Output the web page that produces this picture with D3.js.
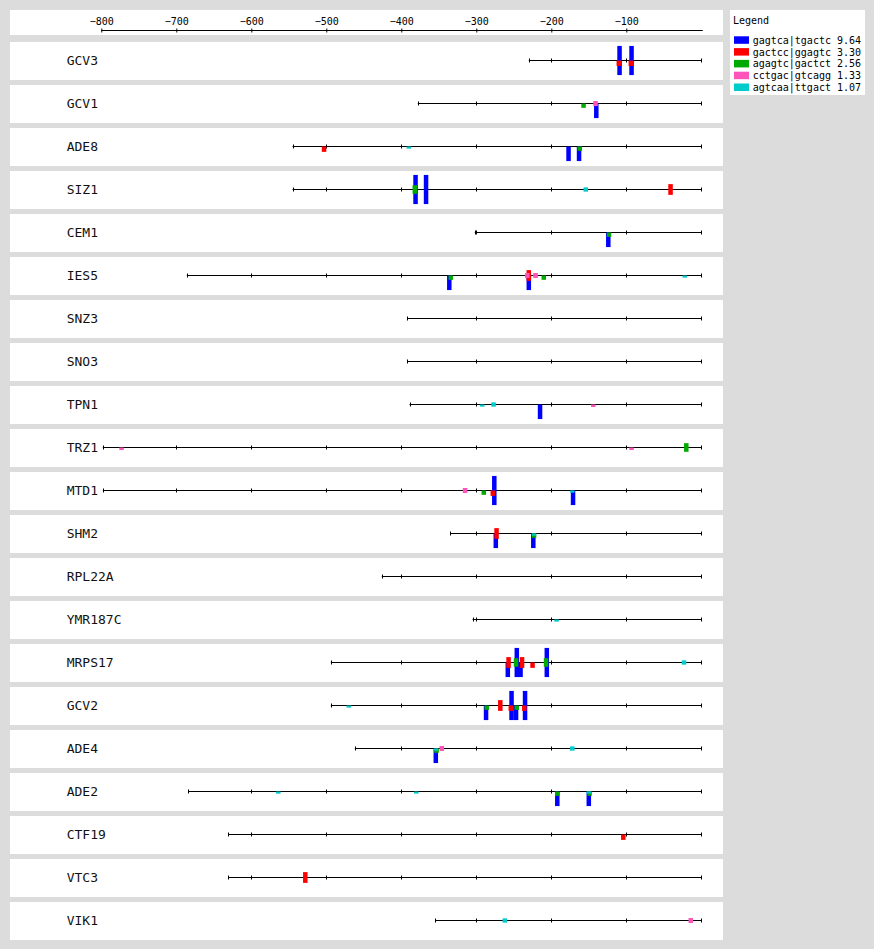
<!DOCTYPE html>
<html><head><meta charset="utf-8">
<script src="https://cdn.jsdelivr.net/npm/d3@7"></script>
<style>body{margin:0;background:#dcdcdc} svg{display:block}</style>
</head><body>
<script>
// ---------- data ----------
const genes = ["GCV3","GCV1","ADE8","SIZ1","CEM1","IES5","SNZ3","SNO3","TPN1","TRZ1","MTD1",
  "SHM2","RPL22A","YMR187C","MRPS17","GCV2","ADE4","ADE2","CTF19","VTC3","VIK1"];
const geneStarts = [-230,-378,-545,-545,-302,-686,-392,-392,-389,-798,-798,
  -335,-426,-305,-494,-494,-462,-684,-631,-631,-355];
const axisTicks = [-800,-700,-600,-500,-400,-300,-200,-100];
const motifs = ["gagtca|tgactc","gactcc|ggagtc","agagtc|gactct","cctgac|gtcagg","agtcaa|ttgact"];
const motifScores = [9.64,3.30,2.56,1.33,1.07];
// [gene, motif index, centre position (bp), strand]
const features = [
  ["GCV3",0,-109,"DR"],["GCV3",0,-93,"DR"],["GCV3",1,-110,"R"],["GCV3",1,-94,"R"],
  ["GCV1",0,-140,"R"],["GCV1",2,-157,"R"],["GCV1",3,-141,"DR"],
  ["ADE8",0,-177,"R"],["ADE8",0,-163,"R"],["ADE8",1,-503,"R"],["ADE8",2,-162,"R"],["ADE8",4,-390,"R"],
  ["SIZ1",0,-381,"DR"],["SIZ1",0,-367,"DR"],["SIZ1",1,-41,"DR"],["SIZ1",2,-382,"DR"],["SIZ1",4,-154,"DR"],
  ["CEM1",0,-124,"R"],["CEM1",2,-123,"R"],
  ["IES5",0,-336,"R"],["IES5",0,-230,"R"],["IES5",1,-230,"DR"],["IES5",2,-334,"R"],["IES5",2,-210,"R"],
  ["IES5",3,-232,"DR"],["IES5",3,-221,"DR"],["IES5",4,-22,"R"],
  ["TPN1",0,-215,"R"],["TPN1",3,-144,"R"],["TPN1",4,-292,"R"],["TPN1",4,-277,"DR"],
  ["TRZ1",2,-20,"DR"],["TRZ1",3,-773,"R"],["TRZ1",3,-93,"R"],
  ["MTD1",0,-276,"DR"],["MTD1",0,-171,"R"],["MTD1",1,-278,"R"],["MTD1",2,-290,"R"],["MTD1",3,-315,"DR"],["MTD1",4,-172,"R"],
  ["SHM2",0,-274,"R"],["SHM2",0,-224,"R"],["SHM2",1,-273,"DR"],["SHM2",2,-223,"R"],["SHM2",4,-223,"R"],
  ["YMR187C",4,-193,"R"],
  ["MRPS17",0,-258,"R"],["MRPS17",0,-246,"DR"],["MRPS17",0,-241,"R"],["MRPS17",0,-206,"DR"],
  ["MRPS17",1,-257,"DR"],["MRPS17",1,-239,"DR"],["MRPS17",1,-225,"R"],
  ["MRPS17",2,-247,"DR"],["MRPS17",2,-207,"DR"],["MRPS17",4,-23,"DR"],
  ["GCV2",0,-287,"R"],["GCV2",0,-253,"DR"],["GCV2",0,-247,"R"],["GCV2",0,-235,"DR"],
  ["GCV2",1,-268,"DR"],["GCV2",1,-254,"R"],["GCV2",1,-236,"R"],
  ["GCV2",2,-286,"R"],["GCV2",2,-246,"R"],["GCV2",4,-470,"R"],
  ["ADE4",0,-354,"R"],["ADE4",2,-353,"R"],["ADE4",3,-346,"DR"],["ADE4",4,-354,"R"],["ADE4",4,-172,"DR"],
  ["ADE2",0,-192,"R"],["ADE2",0,-150,"R"],["ADE2",2,-192,"R"],["ADE2",2,-149,"R"],
  ["ADE2",4,-564,"R"],["ADE2",4,-380,"R"],["ADE2",4,-150,"R"],
  ["CTF19",1,-104,"R"],
  ["VTC3",1,-528,"DR"],
  ["VIK1",3,-14,"DR"],["VIK1",4,-262,"DR"]
];
const motifWidth = 6; // bp

// ---------- styles ----------
const motifColors = ["#0000ff","#ff0000","#00aa00","#ff55bb","#00cccc"];
const FONT = "'DejaVu Sans Mono', monospace";

const W = 874, H = 949;
const svg = d3.select("body").append("svg").attr("width", W).attr("height", H);
svg.append("rect").attr("width", W).attr("height", H).attr("fill", "#dcdcdc");

const x = d3.scaleLinear().domain([-800, 0]).range([101.3, 701.3]);
const row = d3.scaleBand().domain(genes).range([42, 42 + 43 * genes.length]);
const panelH = 38, lineOff = 18.5;
const hScale = d3.scaleLinear().domain([0, 10]).range([0.6, 15.1]);

// top axis panel
svg.append("rect").attr("x", 10).attr("y", 10).attr("width", 713).attr("height", 25).attr("fill", "#fff");
const axG = svg.append("g").attr("transform", "translate(0,30.5)");
axG.call(d3.axisTop(x).tickValues(axisTicks).tickSize(2).tickPadding(3.8));
axG.select(".domain").remove();
axG.append("line").attr("x1", x(-800)).attr("x2", x(0) + 1.5).attr("stroke", "#000");
axG.selectAll(".tick line").attr("y1", -2).attr("y2", 2).attr("stroke", "#000");
axG.selectAll(".tick text").attr("font-family", FONT).attr("font-size", 10).attr("fill", "#000");

// rows
const rows = svg.selectAll("g.row").data(genes).join("g").attr("class", "row")
  .attr("transform", d => `translate(0,${row(d)})`);
rows.append("rect").attr("x", 10).attr("y", 0).attr("width", 713).attr("height", panelH).attr("fill", "#fff");
rows.append("text").attr("x", 66.7).attr("y", 23).attr("font-family", FONT).attr("font-size", 13)
  .attr("font-weight", 300).attr("fill", "#111").text(d => d);
rows.append("line").attr("x1", (d, i) => x(geneStarts[i])).attr("x2", x(0))
  .attr("y1", lineOff).attr("y2", lineOff).attr("stroke", "#000");
rows.each(function(d, i) {
  const s = geneStarts[i];
  const tv = [s].concat(d3.range(Math.ceil((s + 1) / 100) * 100, 0, 100)).concat([0]);
  d3.select(this).selectAll("line.tk").data(tv).join("line").attr("class", "tk")
    .attr("x1", v => Math.round(x(v)) + 0.5).attr("x2", v => Math.round(x(v)) + 0.5)
    .attr("y1", lineOff - 2).attr("y2", lineOff + 2).attr("stroke", "#000");
});

// features: drawn in motif order (largest first)
const sorted = features.map((f, k) => ({f, k})).sort((a, b) => a.f[1] - b.f[1] || a.k - b.k).map(o => o.f);
svg.append("g").selectAll("rect").data(sorted).join("rect")
  .attr("x", f => x(f[2] - motifWidth / 2))
  .attr("width", f => x(f[2] + motifWidth / 2) - x(f[2] - motifWidth / 2))
  .attr("y", f => {
    const ly = row(f[0]) + lineOff, h = hScale(motifScores[f[1]]);
    return f[3] === "R" ? ly : ly - h;
  })
  .attr("height", f => {
    const h = hScale(motifScores[f[1]]);
    return f[3] === "DR" ? 2 * h : h;
  })
  .attr("fill", f => motifColors[f[1]]);

// legend
const lg = svg.append("g");
lg.append("rect").attr("x", 730).attr("y", 10).attr("width", 135).attr("height", 85).attr("fill", "#fff");
lg.append("text").attr("x", 733).attr("y", 24.3).attr("font-family", FONT).attr("font-size", 10).text("Legend");
const items = lg.selectAll("g.it").data(motifs).join("g").attr("class", "it")
  .attr("transform", (d, i) => `translate(0,${36.3 + 11.8 * i})`);
items.append("rect").attr("x", 734).attr("y", 0).attr("width", 15).attr("height", 7.5)
  .attr("fill", (d, i) => motifColors[i]);
items.append("text").attr("x", 752.7).attr("y", 7.4).attr("font-family", FONT).attr("font-size", 10)
  .attr("fill", "#000").text((d, i) => d + " " + d3.format(".2f")(motifScores[i]));
</script>
</body></html>
